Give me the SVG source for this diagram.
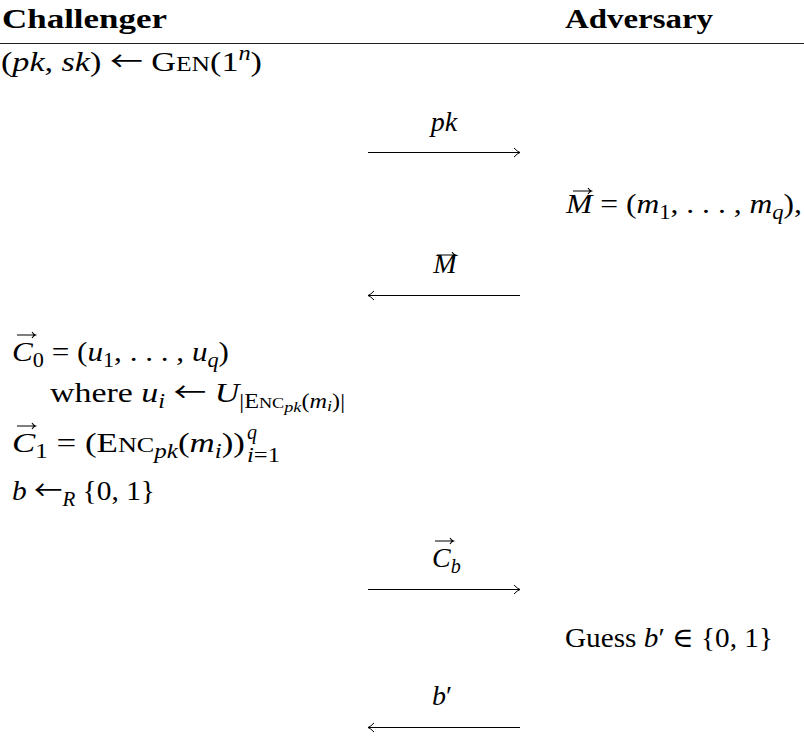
<svg xmlns="http://www.w3.org/2000/svg" width="804" height="749" viewBox="0 0 804 749">
<style>
text{font-family:"Liberation Serif","DejaVu Serif",serif;font-size:28px;fill:#000}
.hd{font-weight:bold;font-size:27px}
.i{font-style:italic}
.s{font-size:20px}
.ss{font-size:15px}
.sc{font-size:21px}
.ar{font-family:"Noto Sans CJK JP","DejaVu Sans",sans-serif;font-size:27px}
.cn{fill:none;stroke:#000;stroke-width:1.1}
.rule{stroke:#222;stroke-width:1.2}
.vec{fill:none;stroke:#000;stroke-width:1.1}
</style>
<defs>
<marker id="ah" markerUnits="userSpaceOnUse" viewBox="-8 -6 9 12" refX="0" refY="0" markerWidth="9" markerHeight="12" orient="auto" overflow="visible">
<path d="M-6,-4.5 Q-2.5,-0.8 0,0 Q-2.5,0.8 -6,4.5" fill="none" stroke="#000" stroke-width="1"/>
</marker>
<path id="vec" class="vec" d="M0,0 H18 M15,-3 Q16.3,-0.8 18.5,0 Q16.3,0.8 15,3"/>
</defs>

<g id="header">
<text class="hd" x="2" y="28" textLength="165" lengthAdjust="spacingAndGlyphs">Challenger</text>
<text class="hd" x="565" y="28" textLength="148" lengthAdjust="spacingAndGlyphs">Adversary</text>
<line class="rule" x1="0" y1="43.5" x2="804" y2="43.5"/>
</g>

<g id="challenger-gen">
<text x="1" y="71" textLength="261" lengthAdjust="spacingAndGlyphs">(<tspan class="i">pk</tspan>, <tspan class="i">sk</tspan>) <tspan class="ar">←</tspan> G<tspan class="sc">EN</tspan>(1<tspan class="s i" dy="-11">n</tspan><tspan dy="11">)</tspan></text>
</g>

<g id="adversary-messages">
<text x="566" y="213" textLength="236" lengthAdjust="spacingAndGlyphs"><tspan class="i">M</tspan> = (<tspan class="i">m</tspan><tspan class="s" dy="6">1</tspan><tspan dy="-6">, . . . , </tspan><tspan class="i">m</tspan><tspan class="s i" dy="6">q</tspan><tspan dy="-6">),</tspan></text>
<use href="#vec" x="573" y="191"/>
</g>

<g id="challenger-ciphertexts">
<text x="12" y="361" textLength="217" lengthAdjust="spacingAndGlyphs"><tspan class="i">C</tspan><tspan class="s" dy="6">0</tspan><tspan dy="-6"> = (</tspan><tspan class="i">u</tspan><tspan class="s" dy="6">1</tspan><tspan dy="-6">, . . . , </tspan><tspan class="i">u</tspan><tspan class="s i" dy="6">q</tspan><tspan dy="-6">)</tspan></text>
<use href="#vec" x="17" y="335"/>
<text x="50" y="402" textLength="295" lengthAdjust="spacingAndGlyphs">where <tspan class="i">u</tspan><tspan class="s i" dy="6">i</tspan><tspan dy="-6"> </tspan><tspan class="ar">←</tspan> <tspan class="i">U</tspan><tspan class="s" dy="6">|E</tspan><tspan class="ss">NC</tspan><tspan class="ss i" dy="4">pk</tspan><tspan class="s" dy="-4">(</tspan><tspan class="s i">m</tspan><tspan class="ss i" dy="3">i</tspan><tspan class="s" dy="-3">)|</tspan></text>
<text x="12" y="452" textLength="233" lengthAdjust="spacingAndGlyphs"><tspan class="i">C</tspan><tspan class="s" dy="6">1</tspan><tspan dy="-6"> = (E</tspan><tspan class="sc">NC</tspan><tspan class="s i" dy="6">pk</tspan><tspan dy="-6">(</tspan><tspan class="i">m</tspan><tspan class="s i" dy="6">i</tspan><tspan dy="-6">))</tspan></text>
<text class="s i" x="247" y="439">q</text>
<text class="s" x="247" y="462" textLength="33" lengthAdjust="spacingAndGlyphs"><tspan class="i">i</tspan>=1</text>
<use href="#vec" x="17" y="426"/>
<text x="12" y="500" textLength="143" lengthAdjust="spacingAndGlyphs"><tspan class="i">b</tspan> <tspan class="ar">←</tspan><tspan class="s i" dy="6">R</tspan><tspan dy="-6"> {0, 1}</tspan></text>
</g>

<g id="adversary-guess">
<text x="565" y="647" textLength="208" lengthAdjust="spacingAndGlyphs">Guess <tspan class="i">b</tspan>′ ∈ {0, 1}</text>
</g>

<g id="connectors">
<line class="cn" x1="368" y1="152.5" x2="520" y2="152.5" marker-end="url(#ah)"/>
<text class="i" x="444" y="131" text-anchor="middle">pk</text>
<line class="cn" x1="520" y1="295.5" x2="368" y2="295.5" marker-end="url(#ah)"/>
<text class="i" x="445" y="273" text-anchor="middle">M</text>
<use href="#vec" x="437" y="255"/>
<line class="cn" x1="368" y1="589.5" x2="520" y2="589.5" marker-end="url(#ah)"/>
<text x="432" y="567"><tspan class="i">C</tspan><tspan class="s i" dy="6">b</tspan></text>
<use href="#vec" x="435" y="541"/>
<line class="cn" x1="520" y1="727.5" x2="368" y2="727.5" marker-end="url(#ah)"/>
<text x="442" y="705" text-anchor="middle"><tspan class="i">b</tspan>′</text>
</g>
</svg>
